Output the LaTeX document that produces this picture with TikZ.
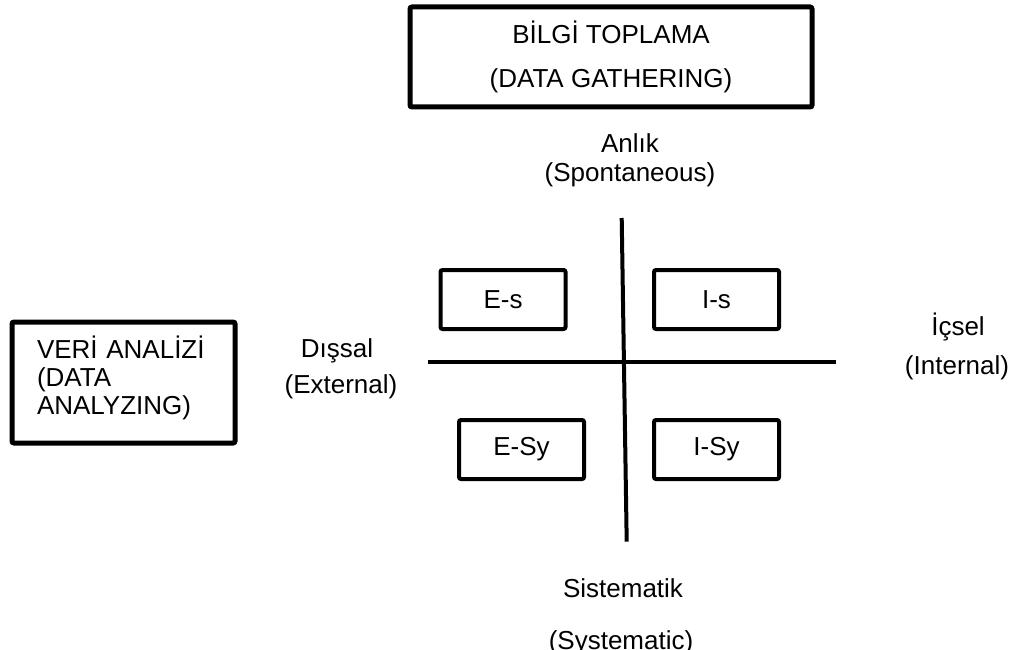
\documentclass[tikz,border=0pt]{standalone}
\usepackage{fontspec}
\setmainfont{Liberation Sans}
\begin{document}
\begin{tikzpicture}[x=1pt,y=-1pt,
  bigbox/.style={draw=black,line width=5pt,rounded corners=2pt,inner sep=0pt},
  quadbox/.style={draw=black,line width=4pt,rounded corners=2pt,inner sep=0pt,
    minimum width=125pt,minimum height=59pt,font=\fontsize{26}{30}\selectfont},
  axisline/.style={draw=black,line width=4pt},
  lbl/.style={anchor=base,inner sep=0pt,font=\fontsize{26}{30}\selectfont}]
\useasboundingbox (0,0) rectangle (1014,650);
% top box
\node[bigbox,minimum width=402pt,minimum height=100pt,align=center,
  font=\fontsize{26}{44}\selectfont] (gather) at (611,57)
  {BİLGİ TOPLAMA\\(DATA GATHERING)};
% left box
\node[bigbox,minimum width=223pt,minimum height=121pt,text width=173pt,
  inner xsep=25pt,align=left,text depth=70pt,font=\fontsize{26}{28}\selectfont] (analyze) at (123.5,382.5)
  {VERİ ANALİZİ\\(DATA\\ANALYZING)};
% axes
\coordinate (vtop) at (621.7,218);
\coordinate (vbot) at (626.7,541.7);
\coordinate (hleft) at (428,362);
\coordinate (hright) at (836,362);
\draw[axisline] (vtop) -- (vbot);
\draw[axisline] (hleft) -- (hright);
% quadrant boxes
\node[quadbox] (es) at (503,299.5) {E-s};
\node[quadbox] (is) at (716.5,299.5) {I-s};
\node[quadbox] (esy) at (521.5,449.5) {E-Sy};
\node[quadbox] (isy) at (716.5,449.5) {I-Sy};
% labels
\node[lbl] (anlik) at (630,152) {Anlık};
\node[lbl] (spont) at (630,181) {(Spontaneous)};
\node[lbl] (dissal) at (337,357) {Dışsal};
\node[lbl] (extern) at (341,393) {(External)};
\node[lbl] (icsel) at (958,335) {İçsel};
\node[lbl] (intern) at (957,374) {(Internal)};
\node[lbl] (sistem) at (623,597) {Sistematik};
\node[lbl] (system) at (621,649) {(Systematic)};
\end{tikzpicture}
\end{document}
